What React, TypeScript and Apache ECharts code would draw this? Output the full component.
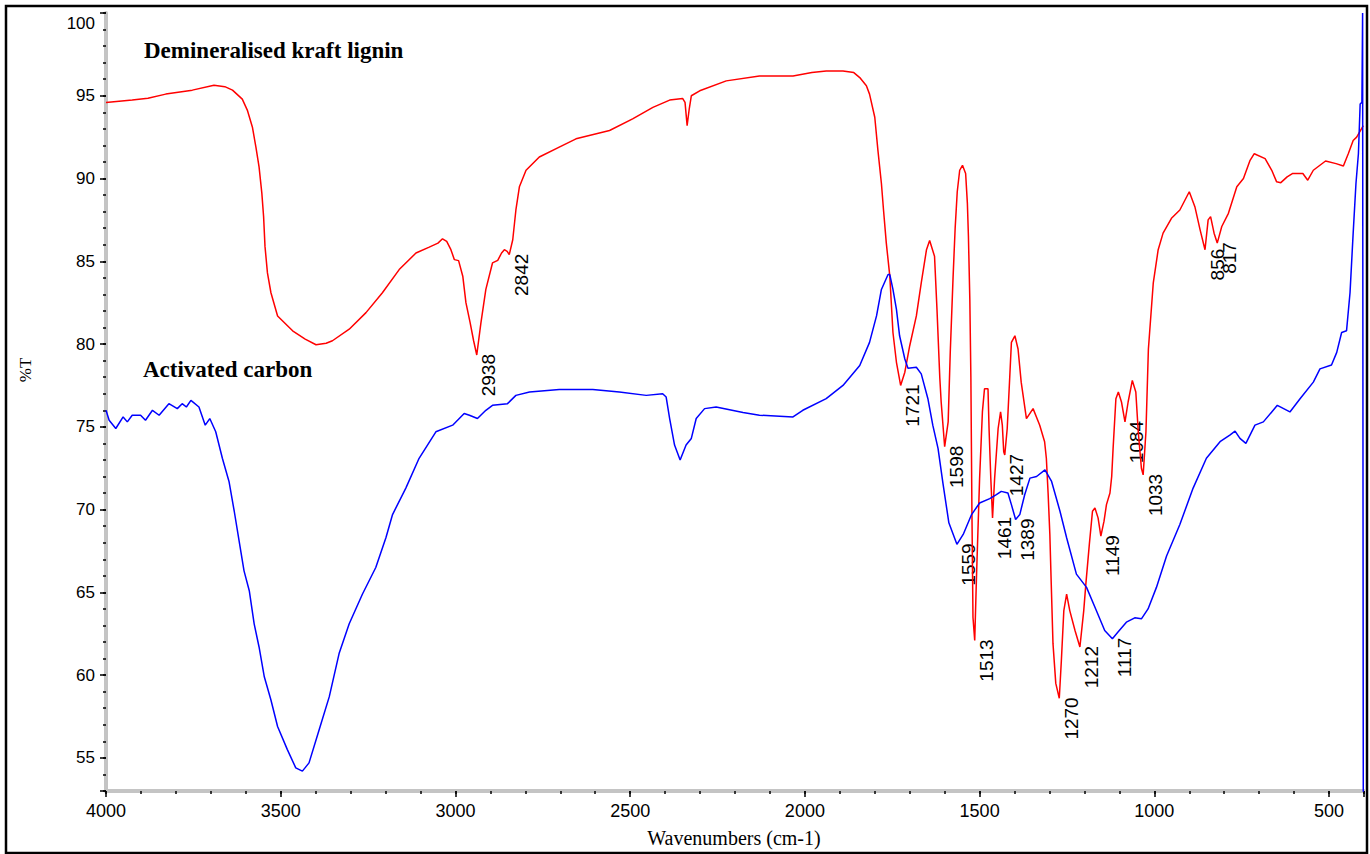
import React, { useEffect, useRef } from "react";
import * as echarts from "echarts";

// Demineralised kraft lignin (red)
const redWavenumbers = [
  4000, 3925, 3880, 3829, 3753, 3691, 3660, 3638, 3610, 3595, 3581, 3571, 3562, 3554, 3549, 3545, 3538, 3528, 3509, 3466,
  3430, 3399, 3370, 3352, 3304, 3256, 3209, 3161, 3113, 3075, 3050, 3037, 3025, 3013, 3003, 2991, 2979, 2970, 2958, 2948,
  2939, 2927, 2913, 2894, 2879, 2868, 2860, 2852, 2846, 2836, 2827, 2817, 2798, 2760, 2703, 2655, 2559, 2493, 2435, 2387,
  2350, 2343, 2337, 2331, 2325, 2301, 2225, 2130, 2034, 1980, 1939, 1891, 1860, 1843, 1824, 1815, 1800, 1791, 1781, 1775,
  1767, 1757, 1748, 1738, 1726, 1714, 1700, 1681, 1667, 1652, 1643, 1629, 1622, 1614, 1610, 1600, 1590, 1584, 1576, 1570,
  1564, 1557, 1549, 1540, 1535, 1532, 1528, 1525, 1522, 1519, 1514, 1509, 1500, 1492, 1486, 1476, 1473, 1468, 1463, 1457,
  1447, 1440, 1435, 1431, 1428, 1421, 1414, 1409, 1399, 1390, 1381, 1366, 1347, 1328, 1314, 1309, 1304, 1299, 1295, 1290,
  1282, 1272, 1266, 1259, 1251, 1242, 1227, 1213, 1202, 1196, 1186, 1177, 1170, 1161, 1153, 1144, 1137, 1127, 1122, 1118,
  1110, 1103, 1094, 1084, 1075, 1063, 1053, 1046, 1037, 1032, 1024, 1017, 1003, 989, 975, 951, 927, 900, 884, 869,
  855, 846, 839, 829, 820, 807, 788, 764, 745, 726, 714, 683, 664, 650, 638, 620, 605, 575, 561, 545,
  510, 480, 459, 445, 431, 421, 402,
];
const redTransmittance = [
  94.6, 94.74, 94.85, 95.1, 95.34, 95.64, 95.55, 95.34, 94.8, 94.1, 93.1, 91.9, 90.7, 89.1, 87.7, 85.9, 84.3, 83.1, 81.7, 80.8,
  80.3, 79.96, 80.05, 80.2, 80.9, 81.9, 83.1, 84.5, 85.5, 85.86, 86.1, 86.36, 86.2, 85.7, 85.1, 85.04, 84.1, 82.5, 81.3, 80.2,
  79.34, 81.3, 83.3, 84.9, 85.06, 85.5, 85.7, 85.6, 85.4, 86.3, 88.1, 89.5, 90.5, 91.3, 91.9, 92.4, 92.9, 93.6, 94.3, 94.74,
  94.84, 94.6, 93.2, 94.2, 95.0, 95.3, 95.9, 96.2, 96.2, 96.4, 96.5, 96.5, 96.4, 96.1, 95.6, 95.1, 93.7, 91.7, 89.7, 88.1,
  86.1, 84.1, 80.7, 78.9, 77.5, 78.3, 79.9, 81.7, 83.7, 85.7, 86.26, 85.3, 82.1, 78.0, 76.5, 73.8, 75.3, 79.5, 84.0, 87.0,
  89.2, 90.5, 90.8, 90.3, 88.5, 86.5, 82.7, 78.0, 69.9, 63.5, 62.1, 65.9, 71.9, 75.9, 77.3, 77.3, 74.9, 71.9, 69.5, 71.9,
  74.9, 75.9, 75.1, 73.5, 73.3, 74.9, 77.9, 80.1, 80.5, 79.7, 77.7, 75.5, 76.1, 75.1, 74.1, 73.1, 71.0, 68.5, 65.5, 61.9,
  59.5, 58.6, 60.9, 63.9, 64.9, 63.9, 62.7, 61.7, 63.9, 65.5, 67.9, 69.9, 70.1, 69.5, 68.4, 69.3, 70.3, 71.0, 72.0, 73.7,
  76.7, 77.1, 76.5, 75.3, 76.5, 77.8, 77.1, 74.7, 72.5, 72.1, 74.7, 79.7, 83.7, 85.7, 86.7, 87.6, 88.1, 89.2, 88.3, 86.9,
  85.7, 87.5, 87.7, 86.7, 86.1, 87.1, 87.9, 89.5, 90.0, 91.1, 91.5, 91.2, 90.5, 89.8, 89.75, 90.1, 90.3, 90.3, 89.9, 90.5,
  91.06, 90.9, 90.76, 91.5, 92.3, 92.5, 93.2,
];

// Activated carbon (blue)
const blueWavenumbers = [
  4000, 3991, 3972, 3951, 3939, 3925, 3901, 3887, 3867, 3848, 3820, 3796, 3782, 3770, 3757, 3734, 3716, 3703, 3686, 3667,
  3648, 3633, 3619, 3605, 3590, 3576, 3562, 3547, 3528, 3509, 3481, 3457, 3438, 3419, 3390, 3361, 3333, 3304, 3266, 3228,
  3199, 3180, 3142, 3104, 3056, 3008, 2975, 2960, 2937, 2913, 2894, 2851, 2827, 2788, 2703, 2607, 2531, 2454, 2407, 2397,
  2387, 2373, 2357, 2340, 2325, 2311, 2287, 2254, 2177, 2130, 2034, 2006, 1939, 1891, 1843, 1815, 1795, 1781, 1762, 1757,
  1748, 1738, 1729, 1714, 1705, 1681, 1667, 1648, 1634, 1619, 1605, 1588, 1565, 1547, 1523, 1500, 1471, 1452, 1438, 1419,
  1409, 1397, 1385, 1371, 1356, 1337, 1313, 1294, 1270, 1251, 1223, 1194, 1166, 1142, 1120, 1104, 1080, 1056, 1037, 1018,
  994, 965, 927, 889, 851, 812, 784, 769, 755, 738, 712, 688, 664, 648, 612, 583, 545, 526, 493, 478,
  464, 450, 440, 431, 423, 416, 411, 406, 404, 402,
];
const blueTransmittance = [
  76.0, 75.4, 74.9, 75.6, 75.3, 75.7, 75.7, 75.4, 76.0, 75.7, 76.4, 76.1, 76.4, 76.2, 76.6, 76.2, 75.1, 75.5, 74.7, 73.1,
  71.7, 69.9, 68.1, 66.3, 65.1, 63.1, 61.7, 59.9, 58.5, 56.9, 55.5, 54.4, 54.2, 54.7, 56.7, 58.7, 61.3, 63.1, 64.9, 66.5,
  68.3, 69.7, 71.3, 73.1, 74.7, 75.1, 75.8, 75.7, 75.5, 76.0, 76.3, 76.4, 76.9, 77.1, 77.26, 77.26, 77.1, 76.9, 77.0, 76.8,
  75.5, 73.9, 73.0, 73.9, 74.3, 75.5, 76.1, 76.2, 75.86, 75.7, 75.6, 76.0, 76.7, 77.5, 78.7, 80.1, 81.7, 83.3, 84.2, 84.2,
  83.3, 82.1, 80.5, 79.1, 78.54, 78.6, 78.2, 76.7, 75.1, 73.7, 71.6, 69.2, 67.9, 68.5, 69.7, 70.4, 70.66, 70.9, 71.1, 71.0,
  70.3, 69.4, 69.7, 70.9, 71.9, 72.0, 72.4, 71.7, 69.9, 68.3, 66.1, 65.3, 63.9, 62.7, 62.2, 62.6, 63.2, 63.46, 63.4, 64.0,
  65.3, 67.2, 69.1, 71.3, 73.1, 74.1, 74.5, 74.74, 74.3, 74.0, 75.1, 75.3, 75.9, 76.3, 75.9, 76.7, 77.7, 78.5, 78.74, 79.5,
  80.7, 80.8, 83.1, 86.7, 89.7, 91.5, 94.5, 94.6, 100.0, 52.0,
];

// Peak annotations
const peakLabels = ["2938", "2842", "1721", "1598", "1513", "1461", "1427", "1270", "1212", "1149", "1084", "1033", "856", "817", "1559", "1389", "1117"];
const peakWavenumbers = [2939, 2846, 1726, 1600, 1514, 1463, 1428, 1272, 1213, 1153, 1084, 1032, 855, 820, 1565, 1397, 1120];
const peakTransmittance = [79.34, 85.4, 77.5, 73.8, 62.1, 69.5, 73.3, 58.6, 61.7, 68.4, 75.3, 72.1, 85.7, 86.1, 67.9, 69.4, 62.2];

const seriesNames = ["Demineralised kraft lignin", "Activated carbon"];
const xAxisName = "Wavenumbers (cm-1)";
const yAxisName = "%T";

const X_MIN = 400;
const X_MAX = 4000;
const Y_MIN = 53;
const Y_MAX = 100;

export default function App() {
  const ref = useRef<HTMLDivElement>(null);

  useEffect(() => {
    document.body.style.margin = "0";
    if (!ref.current) return;
    const chart = echarts.init(ref.current, undefined, { renderer: "svg" });

    const redData = redWavenumbers.map((w, i) => [w, redTransmittance[i]]);
    const blueData = blueWavenumbers.map((w, i) => [w, blueTransmittance[i]]);

    const labelFamily = '"Liberation Sans", Arial, sans-serif';
    const gray = "#c4c4c4";

    chart.setOption({
      animation: false,
      backgroundColor: "#fff",
      grid: { left: 106, right: 6, top: 13, bottom: 63, containLabel: false },
      xAxis: [
        {
          type: "value",
          min: X_MIN,
          max: X_MAX,
          inverse: true,
          interval: 100,
          axisLine: { show: true, lineStyle: { color: gray, width: 4 } },
          axisTick: { show: true, length: 3, lineStyle: { color: "#000", width: 1.5 } },
          axisLabel: {
            fontFamily: labelFamily,
            fontSize: 18,
            color: "#000",
            margin: 11,
            formatter: (v: number) => (v % 500 === 0 ? String(v) : ""),
          },
          splitLine: { show: false },
        },
        {
          type: "value",
          min: X_MIN,
          max: X_MAX,
          inverse: true,
          minInterval: 500,
          maxInterval: 500,
          splitNumber: 8,
          position: "bottom",
          axisLine: { show: false },
          axisTick: { show: true, length: 6, lineStyle: { color: "#000", width: 1.5 } },
          axisLabel: { show: false },
          splitLine: { show: false },
        },
      ],
      yAxis: [
        {
          type: "value",
          min: Y_MIN,
          max: Y_MAX,
          interval: 1,
          axisLine: { show: true, lineStyle: { color: gray, width: 4 } },
          axisTick: { show: true, length: 3, lineStyle: { color: "#000", width: 1.5 } },
          axisLabel: {
            fontFamily: labelFamily,
            fontSize: 17,
            color: "#000",
            margin: 11,
            formatter: (v: number) => (v % 5 === 0 && v !== Y_MAX ? String(v) : ""),
          },
          splitLine: { show: false },
        },
        {
          type: "value",
          min: Y_MIN,
          max: Y_MAX,
          minInterval: 5,
          maxInterval: 5,
          splitNumber: 10,
          position: "left",
          axisLine: { show: false },
          axisTick: { show: true, length: 6, lineStyle: { color: "#000", width: 1.5 } },
          axisLabel: { show: false },
          splitLine: { show: false },
        },
      ],
      series: [
        {
          name: seriesNames[0],
          type: "line",
          xAxisIndex: 0,
          yAxisIndex: 0,
          data: redData,
          showSymbol: false,
          clip: true,
          lineStyle: { color: "#ff0000", width: 1.5 },
          itemStyle: { color: "#ff0000" },
        },
        {
          name: seriesNames[1],
          type: "line",
          xAxisIndex: 0,
          yAxisIndex: 0,
          data: blueData,
          showSymbol: false,
          clip: true,
          lineStyle: { color: "#0000ff", width: 1.5 },
          itemStyle: { color: "#0000ff" },
        },
      ],
    });

    const peakGraphics = peakLabels.map((txt, i) => {
      const p = chart.convertToPixel({ xAxisIndex: 0, yAxisIndex: 0 }, [peakWavenumbers[i], peakTransmittance[i]]) as number[];
      return {
        type: "text",
        x: p[0] + 12,
        y: p[1] - 1,
        rotation: Math.PI / 2,
        silent: true,
        style: {
          text: txt,
          font: '19px "Liberation Sans", Arial, sans-serif',
          fill: "#000",
          align: "right",
          textAlign: "right",
          verticalAlign: "middle",
          textVerticalAlign: "middle",
        },
      };
    });

    // the top tick label sits a little below its tick, as in the source plot
    const topTick = chart.convertToPixel({ xAxisIndex: 0, yAxisIndex: 0 }, [X_MAX, Y_MAX]) as number[];

    const titleFont = 'bold 23px "Liberation Serif", "Times New Roman", serif';
    chart.setOption({
      graphic: [
        {
          type: "rect",
          silent: true,
          shape: { x: 6, y: 6, width: 1361, height: 847 },
          style: { fill: "none", stroke: "#000", lineWidth: 2.5 },
        },
        {
          type: "text",
          x: topTick[0] - 11,
          y: topTick[1] + 10,
          silent: true,
          style: {
            text: String(Y_MAX),
            font: '17px "Liberation Sans", Arial, sans-serif',
            fill: "#000",
            align: "right",
            textAlign: "right",
            verticalAlign: "middle",
            textVerticalAlign: "middle",
          },
        },
        {
          type: "text",
          x: 144,
          y: 50,
          silent: true,
          style: { text: seriesNames[0], font: titleFont, fill: "#000", verticalAlign: "middle", textVerticalAlign: "middle" },
        },
        {
          type: "text",
          x: 143,
          y: 369,
          silent: true,
          style: { text: seriesNames[1], font: titleFont, fill: "#000", verticalAlign: "middle", textVerticalAlign: "middle" },
        },
        {
          type: "text",
          x: 734,
          y: 838,
          silent: true,
          style: {
            text: xAxisName,
            font: '20px "Liberation Serif", "Times New Roman", serif',
            fill: "#000",
            align: "center",
            textAlign: "center",
            verticalAlign: "middle",
            textVerticalAlign: "middle",
          },
        },
        {
          type: "text",
          x: 25,
          y: 370,
          rotation: Math.PI / 2,
          silent: true,
          style: {
            text: yAxisName,
            font: '17px "Liberation Serif", "Times New Roman", serif',
            fill: "#000",
            align: "center",
            textAlign: "center",
            verticalAlign: "middle",
            textVerticalAlign: "middle",
          },
        },
        ...peakGraphics,
      ],
    });

    return () => {
      chart.dispose();
    };
  }, []);

  return <div ref={ref} style={{ width: 1370, height: 854 }} />;
}
